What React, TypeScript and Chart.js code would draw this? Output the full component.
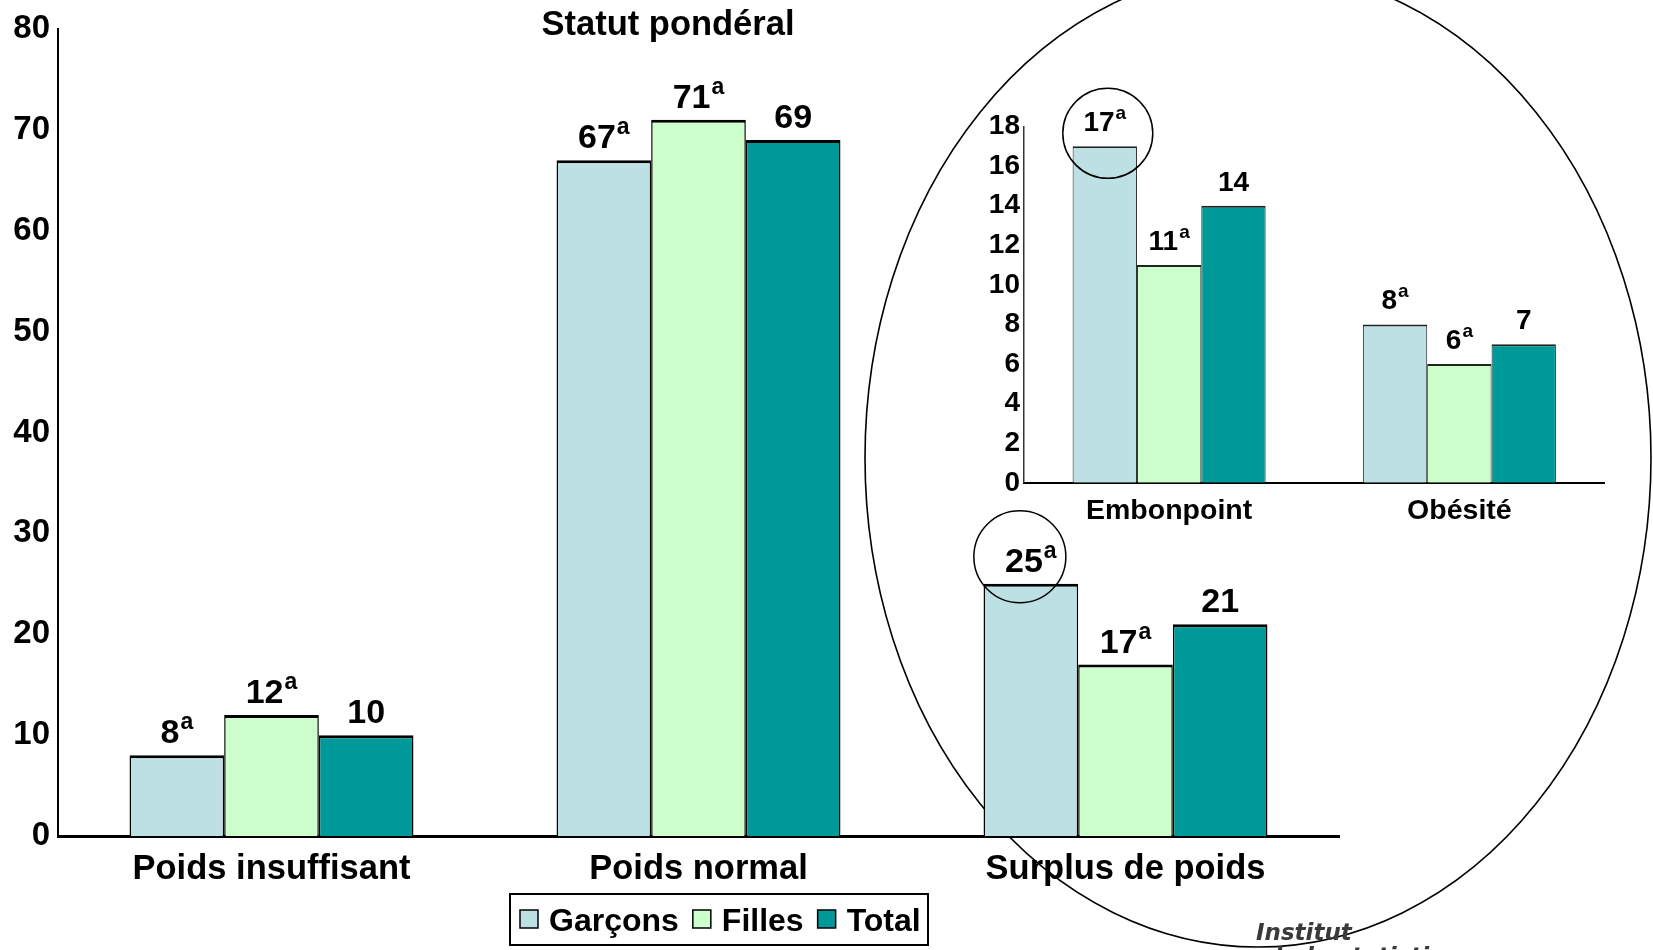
import React, { useEffect, useRef } from 'react';
import { Chart, registerables } from 'chart.js';

Chart.register(...registerables);

// ---------- data ----------
const chartTitle = 'Statut pondéral';
const seriesNames = ['Garçons', 'Filles', 'Total'];
const seriesColors = ['#BCE0E3', '#CCFFCC', '#009999'];

const categories = ['Poids insuffisant', 'Poids normal', 'Surplus de poids'];
const garcons = [8, 67, 25];
const filles = [12, 71, 17];
const total = [10, 69, 21];
const garconsNotes = ['a', 'a', 'a'];
const fillesNotes = ['a', 'a', 'a'];
const totalNotes = ['', '', ''];
const mainAxisMax = 80;
const mainAxisStep = 10;

const insetCategories = ['Embonpoint', 'Obésité'];
const insetGarcons = [17, 8];
const insetFilles = [11, 6];
const insetTotal = [14, 7];
const insetGarconsNotes = ['a', 'a'];
const insetFillesNotes = ['a', 'a'];
const insetTotalNotes = ['', ''];
const insetAxisMax = 18;
const insetAxisStep = 2;

// circled labels: [datasetIndex, categoryIndex]
const mainCircled = [0, 2];
const insetCircled = [0, 0];

const sourceLines = ['Institut', 'de la statistique'];

// ---------- style ----------
const FONT = "'Liberation Sans', Arial, Helvetica, sans-serif";
const W = 1653;
const H = 950;
const INSET = { left: 940, top: 60, width: 700, height: 480 };

type LabelStyle = {
  size: number;
  supSize: number;
  supRaise: number;
  gap: number;
  circle: number[];
  circleDx: number;
  circleDy: number;
  circleR: number;
};

function labelPlugin(notes: string[][], st: LabelStyle) {
  return {
    id: 'valueLabels',
    afterDatasetsDraw(chart: any) {
      const ctx = chart.ctx as CanvasRenderingContext2D;
      ctx.save();
      ctx.fillStyle = '#000';
      ctx.textAlign = 'left';
      ctx.textBaseline = 'alphabetic';
      chart.data.datasets.forEach((ds: any, di: number) => {
        const meta = chart.getDatasetMeta(di);
        meta.data.forEach((bar: any, i: number) => {
          const v = String(ds.data[i]);
          const note = notes[di][i];
          ctx.font = `bold ${st.size}px ${FONT}`;
          const w1 = ctx.measureText(v).width;
          ctx.font = `bold ${st.supSize}px ${FONT}`;
          const w2 = note ? ctx.measureText(note).width + 1 : 0;
          const x0 = bar.x - (w1 + w2) / 2;
          const base = bar.y - st.gap;
          ctx.font = `bold ${st.size}px ${FONT}`;
          ctx.fillText(v, x0, base);
          if (note) {
            ctx.font = `bold ${st.supSize}px ${FONT}`;
            ctx.fillText(note, x0 + w1 + 1, base - st.supRaise);
          }
          if (st.circle[0] === di && st.circle[1] === i) {
            ctx.beginPath();
            ctx.ellipse(bar.x + st.circleDx, bar.y + st.circleDy, st.circleR, st.circleR, 0, 0, Math.PI * 2);
            ctx.lineWidth = 1.5;
            ctx.strokeStyle = '#000';
            ctx.stroke();
          }
        });
      });
      ctx.restore();
    },
  };
}

const bigEllipsePlugin = {
  id: 'bigEllipse',
  beforeDatasetsDraw(chart: any) {
    const ctx = chart.ctx as CanvasRenderingContext2D;
    ctx.save();
    ctx.beginPath();
    ctx.ellipse(1258, 458, 393, 489, 0, 0, Math.PI * 2);
    ctx.lineWidth = 1.6;
    ctx.strokeStyle = '#000';
    ctx.stroke();
    ctx.restore();
  },
};

const decorPlugin = {
  id: 'decor',
  afterDraw(chart: any) {
    const ctx = chart.ctx as CanvasRenderingContext2D;
    ctx.save();
    // title
    ctx.fillStyle = '#000';
    ctx.font = `bold 34.5px ${FONT}`;
    ctx.textAlign = 'center';
    ctx.textBaseline = 'alphabetic';
    ctx.fillText(chartTitle, 668, 35);

    // legend
    ctx.lineWidth = 2;
    ctx.strokeStyle = '#000';
    ctx.strokeRect(510, 894, 418, 51);
    ctx.font = `bold 32px ${FONT}`;
    ctx.textAlign = 'left';
    let x = 520;
    seriesNames.forEach((name, k) => {
      ctx.fillStyle = seriesColors[k];
      ctx.fillRect(x, 910, 18, 18);
      ctx.lineWidth = 1.5;
      ctx.strokeRect(x, 910, 18, 18);
      ctx.fillStyle = '#000';
      ctx.fillText(name, x + 29, 930.5);
      x = x + 29 + ctx.measureText(name).width + 14;
    });

    // source logo text (partly cut at bottom)
    ctx.fillStyle = '#3a3a3a';
    ctx.font = `italic bold 23px 'DejaVu Sans', sans-serif`;
    ctx.fillText(sourceLines[0], 1256, 940);
    ctx.fillText(sourceLines[1], 1266, 964);
    ctx.restore();
  },
};

function mainConfig(): any {
  const data = [garcons, filles, total];
  return {
    type: 'bar',
    data: {
      labels: categories,
      datasets: data.map((d, k) => ({
        label: seriesNames[k],
        data: d,
        backgroundColor: seriesColors[k],
        borderColor: '#000',
        borderWidth: { top: 3, left: 1.5, right: 1.5, bottom: 0 },
        borderSkipped: 'start',
        categoryPercentage: 0.665,
        barPercentage: 1,
      })),
    },
    options: {
      responsive: false,
      animation: false,
      layout: { padding: { left: 0, top: 29, right: 314, bottom: 0 } },
      plugins: { legend: { display: false }, title: { display: false }, tooltip: { enabled: false } },
      scales: {
        x: {
          grid: { display: false, drawTicks: false },
          border: { display: true, color: '#000', width: 3 },
          ticks: { color: '#000', font: { family: FONT, size: 34.5, weight: 'bold' }, padding: 13 },
          afterFit: (s: any) => {
            s.height = 114;
          },
        },
        y: {
          min: 0,
          max: mainAxisMax,
          grid: { display: false, drawTicks: false },
          border: { display: true, color: '#000', width: 2 },
          ticks: {
            stepSize: mainAxisStep,
            autoSkip: false,
            color: '#000',
            font: { family: FONT, size: 33, weight: 'bold' },
            padding: 8,
          },
          afterFit: (s: any) => {
            s.width = 58;
          },
        },
      },
    },
    plugins: [
      bigEllipsePlugin,
      labelPlugin([garconsNotes, fillesNotes, totalNotes], {
        size: 34,
        supSize: 23,
        supRaise: 14,
        gap: 12,
        circle: mainCircled,
        circleDx: -11,
        circleDy: -27,
        circleR: 46,
      }),
      decorPlugin,
    ],
  };
}

function insetConfig(): any {
  const data = [insetGarcons, insetFilles, insetTotal];
  return {
    type: 'bar',
    data: {
      labels: insetCategories,
      datasets: data.map((d, k) => ({
        label: seriesNames[k],
        data: d,
        backgroundColor: seriesColors[k],
        borderColor: '#222',
        borderWidth: { top: 2, left: 1, right: 1, bottom: 0 },
        borderSkipped: 'start',
        categoryPercentage: 0.665,
        barPercentage: 1,
      })),
    },
    options: {
      responsive: false,
      animation: false,
      layout: { padding: { left: 0, top: 66.5, right: 35.5, bottom: 0 } },
      plugins: { legend: { display: false }, title: { display: false }, tooltip: { enabled: false } },
      scales: {
        x: {
          grid: { display: false, drawTicks: false },
          border: { display: true, color: '#000', width: 2 },
          ticks: { color: '#000', font: { family: FONT, size: 28.5, weight: 'bold' }, padding: 11 },
          afterFit: (s: any) => {
            s.height = 57.2;
          },
        },
        y: {
          min: 0,
          max: insetAxisMax,
          grid: { display: false, drawTicks: false },
          border: { display: true, color: '#333', width: 1.5 },
          ticks: {
            stepSize: insetAxisStep,
            autoSkip: false,
            color: '#000',
            font: { family: FONT, size: 28, weight: 'bold' },
            padding: 4,
          },
          afterFit: (s: any) => {
            s.width = 84;
          },
        },
      },
    },
    plugins: [
      labelPlugin([insetGarconsNotes, insetFillesNotes, insetTotalNotes], {
        size: 28,
        supSize: 19,
        supRaise: 12,
        gap: 15,
        circle: insetCircled,
        circleDx: 3,
        circleDy: -13,
        circleR: 45,
      }),
    ],
  };
}

export default function App() {
  const mainRef = useRef<HTMLCanvasElement>(null);
  const insetRef = useRef<HTMLCanvasElement>(null);

  useEffect(() => {
    const c1 = new Chart(mainRef.current as HTMLCanvasElement, mainConfig());
    const c2 = new Chart(insetRef.current as HTMLCanvasElement, insetConfig());
    return () => {
      c1.destroy();
      c2.destroy();
    };
  }, []);

  return (
    <div style={{ position: 'fixed', left: 0, top: 0, width: W, height: H, background: '#fff', overflow: 'hidden' }}>
      <canvas ref={mainRef} width={W} height={H} style={{ position: 'absolute', left: 0, top: 0, width: W, height: H }} />
      <canvas
        ref={insetRef}
        width={INSET.width}
        height={INSET.height}
        style={{ position: 'absolute', left: INSET.left, top: INSET.top, width: INSET.width, height: INSET.height }}
      />
    </div>
  );
}
